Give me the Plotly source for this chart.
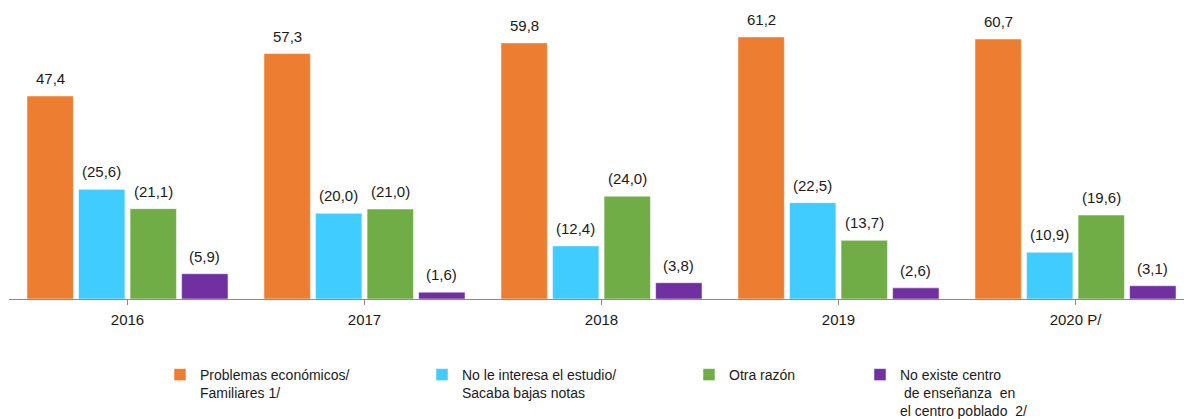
import plotly.graph_objects as go

years = ["2016", "2017", "2018", "2019", "2020 P/"]
series_names = [
    "Problemas económicos/<br>Familiares 1/",
    "No le interesa el estudio/<br>Sacaba bajas notas",
    "Otra razón",
    "No existe centro<br>\u00a0de enseñanza\u00a0 en<br>el centro poblado\u00a0 2/",
]
economicos = [47.4, 57.3, 59.8, 61.2, 60.7]
no_interesa = [25.6, 20.0, 12.4, 22.5, 10.9]
otra_razon = [21.1, 21.0, 24.0, 13.7, 19.6]
no_existe = [5.9, 1.6, 3.8, 2.6, 3.1]
colors = ["#ED7D31", "#41CCFF", "#70AD47", "#7030A0"]

all_series = [economicos, no_interesa, otra_razon, no_existe]
parens = [False, True, True, True]

W, H = 1184, 419
ML, MR, MT, MB = 9, 0, 0, 120
BARGAP = 0.13
BARGROUPGAP = 0.1
FONT = "Liberation Sans, Arial, sans-serif"

legend_text_x = [200, 462, 729, 900]
legend_top_px = 359

fig = go.Figure()
annotations = []
n = len(all_series)
slot = (1 - BARGAP) / n
for j, (vals, name, col) in enumerate(zip(all_series, series_names, colors)):
    lg = "legend" if j == 0 else f"legend{j+1}"
    fig.add_trace(go.Bar(
        x=list(range(len(years))), y=vals, name=name,
        marker=dict(color=col, line=dict(color="rgba(255,255,255,0.5)", width=1)),
        legend=lg, hoverinfo="y",
    ))
    for i, v in enumerate(vals):
        s = f"{v:.1f}".replace(".", ",")
        if parens[j]:
            s = f"({s})"
        annotations.append(dict(
            x=i + (j - (n - 1) / 2) * slot, y=v, xref="x", yref="y",
            text=s, showarrow=False, yanchor="bottom", yshift=7,
            font=dict(family=FONT, size=15, color="#1a1a1a"),
        ))

plot_w = W - ML - MR
plot_h = H - MT - MB
legends = {}
for j in range(n):
    key = "legend" if j == 0 else f"legend{j+1}"
    legends[key] = dict(
        x=(legend_text_x[j] - 40 - ML) / plot_w,
        y=(plot_h - (legend_top_px - MT)) / plot_h,
        xanchor="left", yanchor="top", xref="paper", yref="paper",
        orientation="v", valign="top", bgcolor="rgba(0,0,0,0)",
        font=dict(family=FONT, size=14, color="#1a1a1a"),
        itemclick=False, itemdoubleclick=False,
    )

px_per_cat = 237.0
x_max = -0.5 + plot_w / px_per_cat

fig.update_layout(
    width=W, height=H,
    margin=dict(l=ML, r=MR, t=MT, b=MB, pad=0, autoexpand=False),
    barmode="group", bargap=BARGAP, bargroupgap=BARGROUPGAP,
    plot_bgcolor="white", paper_bgcolor="white",
    font=dict(family=FONT, size=15, color="#1a1a1a"),
    annotations=annotations,
    showlegend=True,
    **legends,
)
fig.update_xaxes(
    tickmode="array", tickvals=list(range(len(years))), ticktext=years,
    range=[-0.5, x_max], tickson="boundaries", ticks="outside", ticklen=5,
    tickcolor="#8c8c8c", showline=True, linecolor="#8c8c8c", linewidth=1,
    showgrid=False, zeroline=False, automargin=False, ticklabelstandoff=2,
    tickfont=dict(family=FONT, size=15, color="#1a1a1a"),
)
fig.update_yaxes(range=[0, plot_h / 4.283], visible=False, showgrid=False, zeroline=False)

fig.write_html("out.html", config={"displayModeBar": False},
               post_script="document.body.style.margin='0';")
